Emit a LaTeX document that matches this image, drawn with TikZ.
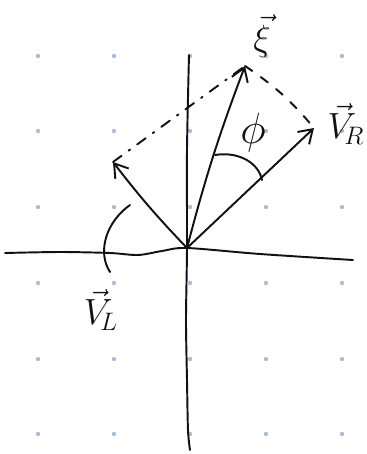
\documentclass[tikz,border=0pt]{standalone}
\usepackage{tikz}
\usetikzlibrary{arrows.meta,calc,positioning}
\definecolor{griddot}{HTML}{A9BCD8}
\definecolor{ink}{HTML}{111111}

\begin{document}
\begin{tikzpicture}[
  x=0.02cm, y=-0.02cm,
  line cap=round, line join=round,
  stroke/.style={ink, line width=1.1pt},
  vec/.style={stroke, -{Straight Barb[length=2.6mm, width=3.4mm]}},
  guide/.style={ink, line width=1.1pt, dash pattern=on 5pt off 6pt},
  guidedot/.style={ink, line width=1.1pt, dash pattern=on 6pt off 5pt on 1pt off 5pt},
  vlabel/.style={text=ink, inner sep=0pt, font=\fontsize{21}{24}\selectfont}
]
  \useasboundingbox (0,0) rectangle (367,454);

  % dotted background grid
  \foreach \gx in {38,114,190,266,342}
    \foreach \gy in {56,131,207,283,359,434}
      \fill[griddot] (\gx,\gy) circle[radius=2.2];

  % axes
  \draw[stroke] plot[smooth] coordinates
    {(5,253) (60,252) (110,253) (138,255) (162,251) (187,248) (260,254) (353,260)};
  \draw[stroke] plot[smooth] coordinates
    {(189,55) (187,150) (187,248) (186,320) (187,380) (188,430) (190,450)};

  \coordinate (O) at (187,248);
  \coordinate (VL) at (113,162);
  \coordinate (XI) at (245,66);
  \coordinate (VR) at (314,128);

  \draw[vec] (O) to[bend left=3] (VL);
  \draw[vec] (O) to[bend left=3] (XI);
  \draw[vec] (O) -- (VR);
  \draw[guidedot] (VL) -- (XI);
  \draw[guide] (XI) to[bend left=8] (VR);

  % angle marks
  \draw[stroke] (215,155) .. controls (240,151) and (259,164) .. (262,180);
  \draw[stroke] (130,205) .. controls (106,222) and (97,252) .. (110,272);

  \node[vlabel] (phi) at (253,133) {\fontsize{27}{30}\selectfont$\phi$};
  \node[vlabel] (xilab) at (262,36) {$\vec{\xi}$};
  \node[vlabel] (vrlab) at (346,124) {$\vec{V}_{\!R}$};
  \node[vlabel] (vllab) at (101,310) {$\vec{V}_{\!L}$};
\end{tikzpicture}
\end{document}
